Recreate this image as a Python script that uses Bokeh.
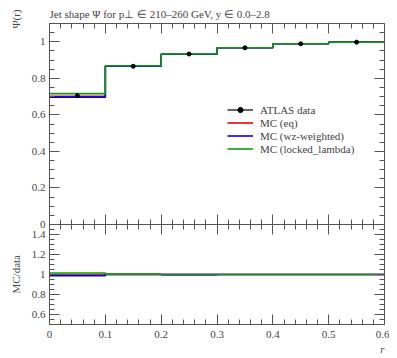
from bokeh.plotting import figure
from bokeh.models import (Range1d, LinearAxis, Legend, LegendItem, FixedTicker, Title,
                          CustomJSTickFormatter, ColumnDataSource)
from bokeh.models.labeling import CustomLabelingPolicy
from bokeh.embed import file_html
from bokeh.resources import INLINE

# ---------------- data ----------------
bin_edges = [0.0, 0.1, 0.2, 0.3, 0.4, 0.5, 0.6]
r_centers = [0.05, 0.15, 0.25, 0.35, 0.45, 0.55]
data_psi = [0.705, 0.866, 0.933, 0.967, 0.989, 0.998]
data_err = [0.011, 0.005, 0.004, 0.003, 0.002, 0.001]
mc_eq = [0.701, 0.867, 0.932, 0.967, 0.989, 0.998]
mc_wz = [0.697, 0.866, 0.932, 0.967, 0.989, 0.998]
mc_ll = [0.716, 0.869, 0.933, 0.967, 0.989, 0.998]

x_ticks = [0, 0.1, 0.2, 0.3, 0.4, 0.5, 0.6]
y_ticks_main = [0, 0.2, 0.4, 0.6, 0.8, 1.0]
y_ticks_ratio = [0.6, 0.8, 1.0, 1.2, 1.4]
main_lim = (0.0, 1.1)
ratio_lim = (0.5, 1.5)

FONT = "Liberation Serif"
AXC = "#555555"

# panel geometry (pixels)
FW, H_MAIN, H_RATIO = 335, 201, 100
FH = H_MAIN + H_RATIO
main_per_px = (main_lim[1] - main_lim[0]) / H_MAIN
ratio_per_px = (ratio_lim[1] - ratio_lim[0]) / H_RATIO
main_bottom = main_lim[0] - H_RATIO * main_per_px
k_ratio = main_per_px / ratio_per_px

def ratio_to_main(r):
    return main_bottom + (r - ratio_lim[0]) * k_ratio

def step_y(vals):
    return list(vals) + [vals[-1]]

fmt = CustomJSTickFormatter(code="return String(Math.round(tick*100)/100)")
fmt_left = CustomJSTickFormatter(
    args=dict(m0=main_bottom, k=k_ratio, r0=ratio_lim[0]),
    code="let v = tick; if (tick < -1e-9) { v = r0 + (tick - m0) / k; } return String(Math.round(v*100)/100)")
no_labels = CustomLabelingPolicy(code="const n = indices.size; for (let i = 0; i < n; i++) indices.unset(i); return indices")

def style_axis(ax, labels=True, out=False):
    ax.major_tick_in = 10
    ax.major_tick_out = 10 if out else 0
    ax.minor_tick_in = 5
    ax.minor_tick_out = 5 if out else 0
    ax.axis_line_color = AXC
    ax.major_tick_line_color = AXC
    ax.minor_tick_line_color = AXC
    ax.major_label_text_font = FONT
    ax.formatter = fmt
    if labels:
        ax.major_label_text_font_size = "11px"
        ax.major_label_standoff = 4
    else:
        ax.major_label_text_font_size = "1px"
        ax.major_label_standoff = 0
        ax.major_label_policy = no_labels

x_minor = [round(i * 0.02, 2) for i in range(31)]
y_minor_main = [round(i * 0.05, 2) for i in range(23)]
y_minor_ratio = [round(0.5 + i * 0.05, 2) for i in range(21)]

p = figure(frame_width=FW, frame_height=FH, output_backend="svg", toolbar_location=None,
           x_range=Range1d(0, 0.6),
           y_range=Range1d(main_bottom, main_lim[1]),
           min_border_left=49, min_border_right=5, min_border_top=23, min_border_bottom=0)
p.extra_y_ranges = {"ratio": Range1d(ratio_lim[0], ratio_lim[0] + FH * ratio_per_px)}
p.grid.visible = False
p.outline_line_color = AXC

p.title.text = "Jet shape \u03a8 for p\u22a5 \u2208 210\u2013260 GeV, y \u2208 0.0\u20132.8"
p.title.text_font = FONT
p.title.text_font_size = "11px"
p.title.text_font_style = "normal"
p.title.align = "left"
p.title.standoff = 7

# bottom axis (labels)
p.xaxis.ticker = FixedTicker(ticks=x_ticks, minor_ticks=x_minor)
style_axis(p.xaxis[0], True)
p.xaxis[0].major_label_standoff = 6

# left axis: main ticks plus ratio ticks (ratio ticks placed via the ratio scale mapping)
left_ticks = [ratio_to_main(t) for t in y_ticks_ratio] + y_ticks_main
left_minor = [ratio_to_main(t) for t in y_minor_ratio] + y_minor_main
p.yaxis.ticker = FixedTicker(ticks=left_ticks, minor_ticks=left_minor)
style_axis(p.yaxis[0], True)
p.yaxis[0].formatter = fmt_left

# mirrored / separator axes
ax_sep = LinearAxis(fixed_location=0, ticker=FixedTicker(ticks=x_ticks, minor_ticks=x_minor))
style_axis(ax_sep, False, out=True)
p.add_layout(ax_sep, "below")
ax_top = LinearAxis(fixed_location=main_lim[1], ticker=FixedTicker(ticks=x_ticks, minor_ticks=x_minor))
style_axis(ax_top, False)
p.add_layout(ax_top, "above")
ax_rm = LinearAxis(fixed_location=0.6, bounds=main_lim,
                   ticker=FixedTicker(ticks=y_ticks_main, minor_ticks=y_minor_main))
style_axis(ax_rm, False)
p.add_layout(ax_rm, "right")
ax_rr = LinearAxis(fixed_location=0.6, y_range_name="ratio", bounds=ratio_lim,
                   ticker=FixedTicker(ticks=y_ticks_ratio, minor_ticks=y_minor_ratio))
style_axis(ax_rr, False)
p.add_layout(ax_rr, "right")

# axis titles
p.add_layout(Title(text="\u03a8(r)", align="right", text_font=FONT, text_font_size="11px",
                   text_font_style="normal", standoff=14, offset=-14), "left")
p.add_layout(Title(text="MC/data", align="left", text_font=FONT, text_font_size="11px",
                   text_font_style="normal", standoff=-43, offset=31), "left")
p.add_layout(Title(text="r", align="right", text_font=FONT, text_font_size="11px",
                   text_font_style="italic", standoff=0), "below")

# ---------------- main panel ----------------
r_eq = p.step(bin_edges, step_y(mc_eq), mode="after", line_color="#ee0000", line_width=1.6)
r_wz = p.step(bin_edges, step_y(mc_wz), mode="after", line_color="#0000ee", line_width=1.6)
r_ll = p.step(bin_edges, step_y(mc_ll), mode="after", line_color="#119911", line_width=1.6)

src = ColumnDataSource(dict(x=r_centers, y=data_psi,
                            lo=[v - e for v, e in zip(data_psi, data_err)],
                            hi=[v + e for v, e in zip(data_psi, data_err)]))
r_err = p.segment(x0="x", y0="lo", x1="x", y1="hi", source=src, line_color="black", line_width=1.2)
r_pts = p.scatter(x="x", y="y", source=src, size=4, color="black")

legend = Legend(items=[
    LegendItem(label="ATLAS data", renderers=[r_err, r_pts]),
    LegendItem(label="MC (eq)", renderers=[r_eq]),
    LegendItem(label="MC (wz-weighted)", renderers=[r_wz]),
    LegendItem(label="MC (locked_lambda)", renderers=[r_ll]),
], location=(178, 169))
legend.border_line_color = None
legend.background_fill_alpha = 0
legend.padding = 0
legend.margin = 0
legend.spacing = 0
legend.glyph_width = 26
legend.glyph_height = 13
legend.label_height = 13
legend.label_standoff = 7
legend.label_text_font = FONT
legend.label_text_font_size = "11px"
p.add_layout(legend, "center")

# ---------------- ratio panel ----------------
rel = [e / v for v, e in zip(data_psi, data_err)]
p.quad(left=bin_edges[:-1], right=bin_edges[1:],
       bottom=[1 - d for d in rel], top=[1 + d for d in rel],
       fill_color="#ffff44", line_color=None, y_range_name="ratio")
p.step(bin_edges, step_y([m / d for m, d in zip(mc_eq, data_psi)]), mode="after",
       line_color="#ee0000", line_width=1.6, y_range_name="ratio")
p.step(bin_edges, step_y([m / d for m, d in zip(mc_wz, data_psi)]), mode="after",
       line_color="#0000ee", line_width=1.6, y_range_name="ratio")
p.step(bin_edges, step_y([m / d for m, d in zip(mc_ll, data_psi)]), mode="after",
       line_color="#119911", line_width=1.6, y_range_name="ratio")

open("out.html", "w").write(file_html(p, INLINE))
